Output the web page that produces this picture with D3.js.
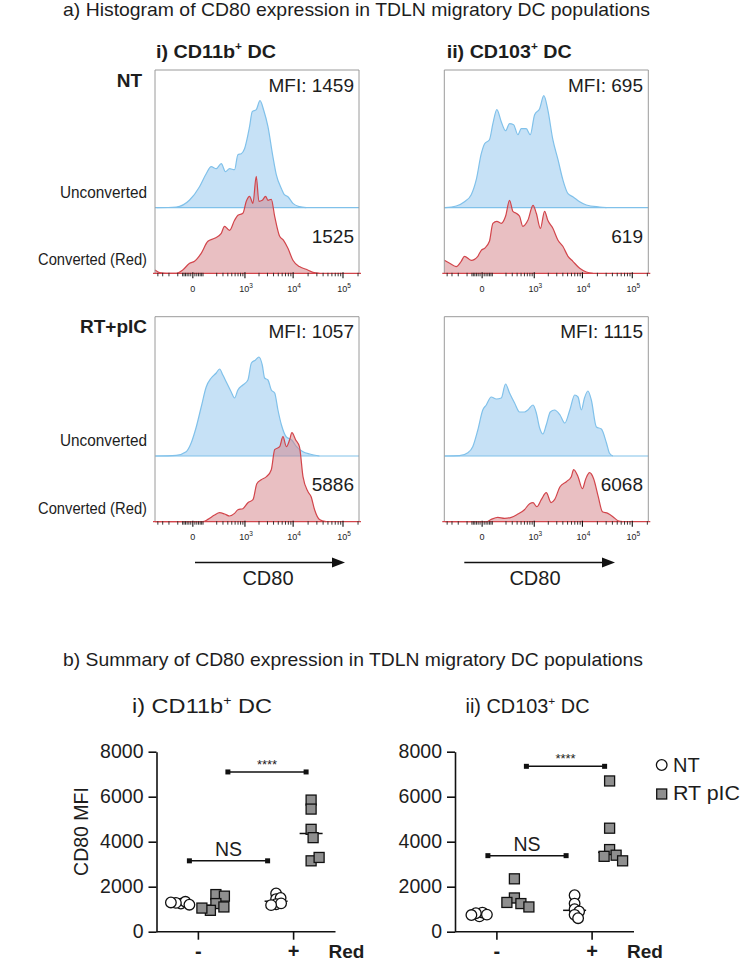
<!DOCTYPE html>
<html><head><meta charset="utf-8">
<script src="https://cdn.jsdelivr.net/npm/d3@7/dist/d3.min.js"></script>
<style>
html,body{margin:0;padding:0;background:#fff}
svg{display:block}
text{font-family:"Liberation Sans",Arial,Helvetica,sans-serif;fill:#1d1d1d}
</style></head><body>
<svg id="fig" width="743" height="961" viewBox="0 0 743 961"></svg>
<script>
// ================= DATA =================
const titleA = "a) Histogram of CD80 expression in TDLN migratory DC populations";
const titleB = "b) Summary of CD80 expression in TDLN migratory DC populations";
const histColumns = ["i) CD11b⁺ DC", "ii) CD103⁺ DC"];
const histRowLabels = ["NT", "RT+pIC"];
const histSeries = ["Unconverted", "Converted (Red)"];
const mfiUnconverted = [[1459, 695], [1057, 1115]];   // [row][column]
const mfiConverted   = [[1525, 619], [5886, 6068]];
const histTickValues = [0, 1000, 10000, 100000];
const histTickBase   = ["0", "10", "10", "10"];
const histTickExp    = ["", "3", "4", "5"];
const histAxisLabel  = "CD80";

// histogram outlines: [CD80 intensity, normalised count]
const histNT_CD11b_unconv = [[-430,0],[-115,0.7],[-16,7.7],[36,21],[85,34],[133,41],[194,39],[270,44],[350,36],[442,39],[582,38],[695,53],[826,54],[980,59],[1260,81],[1440,96],[1750,98],[2100,107],[2490,98],[3070,81],[3880,51],[4550,33],[5800,19],[6650,13],[7850,11],[9900,4.3],[13400,1],[18300,0]];
const histNT_CD11b_conv = [[-470,3.3],[-362,0.7],[-240,0],[-115,0],[-59,3.3],[-16,10],[8,12],[47,20],[100,32],[172,35],[270,40],[330,47],[380,45],[442,43],[582,53],[695,58],[900,60],[1070,72],[1260,77],[1490,70],[1750,97],[1990,72],[2340,73],[2740,77],[3070,73],[3600,74],[4220,57],[5330,37],[6400,33],[7850,25],[9900,13],[13400,6.7],[18300,4],[25000,1],[33800,0]];
const histNT_CD103_unconv = [[-455,0],[-230,1.7],[-125,6],[-65,13],[-31,28],[-4,54],[12,64],[40,68],[64,84],[97,98],[141,86],[194,77],[253,84],[325,83],[418,73],[505,79],[660,79],[815,73],[1020,93],[1310,99],[1610,112],[1950,98],[2490,68],[3180,48],[4000,28],[5100,14],[6400,11],[8800,6],[12000,2.7],[22200,0.7],[30400,0]];
const histNT_CD103_conv = [[-470,13],[-345,10],[-230,6.7],[-162,12],[-125,17],[-65,13],[-22,17],[-4,23],[12,25],[40,32],[64,50],[97,52],[141,50],[194,57],[253,73],[312,62],[380,60],[460,57],[550,47],[720,53],[940,68],[1110,60],[1360,45],[1670,62],[1950,53],[2490,45],[3180,33],[4000,27],[5100,17],[6400,12],[8800,5],[12000,1.3],[16200,0]];
const histRT_CD11b_unconv = [[-455,0],[-115,0.7],[-36,4.3],[-8,13],[17,29],[47,49],[85,69],[133,78],[194,83],[242,87],[298,81],[366,74],[485,64],[582,58],[695,66],[900,71],[1160,76],[1380,93],[1690,96],[1990,99],[2340,91],[2620,78],[3070,76],[3600,66],[4220,63],[4920,46],[5800,31],[7300,19],[9350,16],[11700,9.3],[15800,4.3],[21500,2],[33800,0]];
const histRT_CD11b_conv = [[-470,0],[59,0],[100,2.3],[172,6.7],[242,9],[330,7.7],[442,5.7],[582,8.3],[695,12],[900,13],[1160,19],[1490,22],[1800,38],[2230,42],[2860,45],[3600,52],[4220,72],[5330,75],[6220,85],[7300,75],[8500,82],[9450,89],[11200,82],[13400,75],[15800,45],[19900,30],[23000,25],[27000,12],[33800,2.3],[46000,0]];
const histRT_CD103_unconv = [[-455,0],[-183,0.3],[-93,3.3],[-54,9.3],[-22,26],[3,46],[21,51],[52,59],[92,57],[141,58],[194,72],[253,63],[345,53],[460,44],[600,44],[720,46],[940,51],[1110,43],[1310,28],[1540,22],[1810,31],[2200,44],[2700,46],[3500,41],[4400,33],[5550,46],[6980,61],[8150,59],[9500,46],[11000,58],[12900,65],[15100,56],[19100,29],[24000,27],[30400,13],[35000,2.7],[41000,0]];
const histRT_CD103_conv = [[-455,0],[21,0],[52,2.3],[106,4.3],[180,3.3],[282,4.3],[418,7.7],[600,12],[790,18],[940,19],[1140,15],[1420,22],[1810,29],[2300,19],[2700,22],[3500,35],[4720,40],[5950,45],[6640,52],[8150,45],[9970,33],[11700,43],[13900,49],[16800,43],[20800,25],[25200,10],[32400,8.3],[41000,5],[51800,1],[65000,0]];

const histData = [
  [[histNT_CD11b_unconv, histNT_CD11b_conv], [histNT_CD103_unconv, histNT_CD103_conv]],
  [[histRT_CD11b_unconv, histRT_CD11b_conv], [histRT_CD103_unconv, histRT_CD103_conv]]
];

// summary scatter
const summaryTitles = ["i) CD11b⁺ DC", "ii) CD103⁺ DC"];
const summaryGroups = ["-", "+"];
const summarySeries = ["NT", "RT pIC"];
const summaryTicks  = [0, 2000, 4000, 6000, 8000];
const summaryYLabel = "CD80 MFI";
const summaryXLabel = "Red";

const cd11b_NT_neg = [1250, 1330, 1280, 1200, 1300];
const cd11b_RT_neg = [1650, 1580, 1250, 1100, 950, 1050];
const cd11b_NT_pos = [1700, 1450, 1500, 1220, 1260, 1180];
const cd11b_RT_pos = [5850, 5450, 4550, 4180, 3150, 3300];
const cd103_NT_neg = [680, 850, 820, 760, 740];
const cd103_RT_neg = [2350, 1500, 1250, 1300, 1100];
const cd103_NT_pos = [1620, 1250, 1000, 900, 750, 600];
const cd103_RT_pos = [6700, 4600, 3650, 3400, 3350, 3150];

const sigCD11b = [{series: "NT", y: 3150, label: "NS"}, {series: "RT pIC", y: 7100, label: "****"}];
const sigCD103 = [{series: "NT", y: 3380, label: "NS"}, {series: "RT pIC", y: 7350, label: "****"}];

// ================= DRAW =================
const svg = d3.select("#fig");

function label(parent, x, y, str, o = {}) {
  const size = o.size || 19;
  const t = parent.append("text")
    .attr("x", x).attr("y", y)
    .attr("font-size", size)
    .attr("font-weight", o.weight || "normal")
    .attr("text-anchor", o.anchor || "start");
  const segs = str.split("⁺");
  segs.forEach((seg, i) => {
    if (i > 0) {
      t.append("tspan").attr("font-size", size * 0.6).attr("dy", -size * 0.4).text("+");
      t.append("tspan").attr("dy", size * 0.4).text(seg);
    } else {
      t.append("tspan").text(seg);
    }
  });
  if (o.width) t.attr("textLength", o.width).attr("lengthAdjust", "spacingAndGlyphs");
  return t;
}

// ---- titles ----
label(svg, 63, 15.5, titleA, {size: 19, width: 587});
label(svg, 63, 666, titleB, {size: 19, width: 580});

// ---- histograms ----
const panelW = 204;
const colLefts = [155, 444.3];
const rowGeom = [{top: 70, mid: 207.7, bot: 273.3}, {top: 316.7, mid: 456, bot: 521.7}];
const headerX = [156, 446.7], headerW = [120, 125];
const rowLabelX = [142, 147], rowLabelY = [87.3, 333];
const mfiRight = [354, 643];

const hy = d3.scaleLinear().domain([0, 100]).range([0, 100]);
const blue = {fill: "#c6e1f6", stroke: "#80c1ea"};
const red  = {fill: "rgba(212,128,133,0.5)", stroke: "#d2454b"};

histColumns.forEach((h, c) => label(svg, headerX[c], 58, h, {size: 19, weight: "bold", width: headerW[c]}));

histRowLabels.forEach((rl, r) => {
  const g = rowGeom[r];
  label(svg, rowLabelX[r], rowLabelY[r], rl, {size: 19, weight: "bold", anchor: "end"});
  label(svg, 147, g.mid - 10, histSeries[0], {size: 16.5, anchor: "end", width: 87});
  label(svg, 147, g.bot - 8, histSeries[1], {size: 16.5, anchor: "end", width: 109});

  histColumns.forEach((_, c) => {
    const L = colLefts[c];
    const hx = d3.scaleSymlog().constant(100).domain([-470, 209000]).range([L, L + panelW]);
    const pg = svg.append("g");
    const [unconv, conv] = histData[r][c];
    const areaAt = base => d3.area().curve(d3.curveMonotoneX)
        .x(d => hx(d[0])).y0(base).y1(d => base - hy(d[1]));
    const lineAt = base => d3.line().curve(d3.curveMonotoneX)
        .x(d => hx(d[0])).y(d => base - hy(d[1]));

    // unconverted (top, blue)
    pg.append("path").attr("d", areaAt(g.mid)(unconv)).attr("fill", blue.fill);
    pg.append("line").attr("x1", L).attr("x2", L + panelW).attr("y1", g.mid).attr("y2", g.mid)
      .attr("stroke", blue.stroke).attr("stroke-width", 1.2);
    pg.append("path").attr("d", lineAt(g.mid)(unconv)).attr("fill", "none")
      .attr("stroke", blue.stroke).attr("stroke-width", 1.2);

    // converted (bottom, red)
    pg.append("path").attr("d", areaAt(g.bot)(conv)).attr("fill", red.fill);
    pg.append("path").attr("d", lineAt(g.bot)(conv)).attr("fill", "none")
      .attr("stroke", red.stroke).attr("stroke-width", 1.2);

    // frame
    pg.append("path")
      .attr("d", `M${L},${g.bot}V${g.top}H${L + panelW}V${g.bot}`)
      .attr("fill", "none").attr("stroke", "#9a9a9a").attr("stroke-width", 1);
    pg.append("line").attr("x1", L - 2).attr("x2", L + panelW + 2).attr("y1", g.bot).attr("y2", g.bot)
      .attr("stroke", red.stroke).attr("stroke-width", 1.3);

    // axis ticks
    const minor = [].concat(
      d3.range(-400, -99, 100),
      d3.range(-60, 61, 10).filter(v => v !== 0),
      d3.range(200, 901, 100),
      d3.range(2000, 9001, 1000),
      d3.range(20000, 90001, 10000),
      [200000]);
    pg.selectAll(null).data(minor).join("line")
      .attr("x1", d => hx(d)).attr("x2", d => hx(d))
      .attr("y1", g.bot - 0.5).attr("y2", g.bot + 3)
      .attr("stroke", "#222").attr("stroke-width", 0.9);
    pg.selectAll(null).data(histTickValues).join("line")
      .attr("x1", d => hx(d)).attr("x2", d => hx(d))
      .attr("y1", g.bot - 1).attr("y2", g.bot + 5)
      .attr("stroke", "#111").attr("stroke-width", 1.1);
    histTickValues.forEach((v, i) => {
      const t = pg.append("text").attr("x", hx(v) + (i ? 1 : 0)).attr("y", g.bot + 18.5)
        .attr("font-size", 9).attr("text-anchor", "middle").attr("fill", "#333");
      t.append("tspan").text(histTickBase[i]);
      if (histTickExp[i]) t.append("tspan").attr("font-size", 6.5).attr("dy", -4).text(histTickExp[i]);
    });

    // MFI texts
    label(pg, mfiRight[c], g.top + 21.5, "MFI: " + mfiUnconverted[r][c], {size: 19, anchor: "end"});
    label(pg, mfiRight[c], g.mid + 35, String(mfiConverted[r][c]), {size: 19, anchor: "end"});
  });
});

// arrows + CD80 label (under bottom row)
const arrowX = [[195, 345], [464.3, 615]];
const cd80X = [268, 535];
arrowX.forEach((a, c) => {
  const y = 562.5;
  svg.append("line").attr("x1", a[0]).attr("x2", a[1] - 10).attr("y1", y).attr("y2", y)
    .attr("stroke", "#111").attr("stroke-width", 1.6);
  svg.append("path").attr("d", `M${a[1]},${y}L${a[1] - 13},${y - 5}L${a[1] - 13},${y + 5}Z`).attr("fill", "#111");
  label(svg, cd80X[c], 584.5, histAxisLabel, {size: 20, anchor: "middle"});
});

// ---- summary scatter plots ----
const sy = d3.scaleLinear().domain([0, 8000]).range([931.7, 751.7]);
const axisLen = 179;
const plots = [
  {axisX: 156.5, title: summaryTitles[0], titleX: 202, titleSize: 21, titleW: 140,
   data: {"NT": {"-": cd11b_NT_neg, "+": cd11b_NT_pos}, "RT pIC": {"-": cd11b_RT_neg, "+": cd11b_RT_pos}},
   sig: sigCD11b, yLabel: true},
  {axisX: 455, title: summaryTitles[1], titleX: 527.5, titleSize: 19.5, titleW: 124,
   data: {"NT": {"-": cd103_NT_neg, "+": cd103_NT_pos}, "RT pIC": {"-": cd103_RT_neg, "+": cd103_RT_pos}},
   sig: sigCD103, yLabel: false}
];

function swarm(vals, cx, minD) {
  const placed = [];
  return vals.map(v => {
    const py = sy(v);
    let off = 0;
    for (let k = 0; k < 200; k++) {
      const cand = (k % 2 ? 1 : -1) * Math.ceil(k / 2) * 0.5;
      const ok = placed.every(p => Math.hypot(p[0] - (cx + cand), p[1] - py) >= minD);
      if (ok) { off = cand; break; }
    }
    const pt = [cx + off, py, v];
    placed.push(pt);
    return pt;
  });
}

plots.forEach(p => {
  const g = svg.append("g");
  const gx = d3.scalePoint().domain(summaryGroups).range([p.axisX, p.axisX + axisLen]).padding(0.44);
  const sx = d3.scalePoint().domain(summarySeries).range([-17.5, 17.5]);
  const X = (grp, ser) => gx(grp) + sx(ser);

  label(g, p.titleX, 713, p.title, {size: p.titleSize, anchor: "middle", width: p.titleW});

  // y axis
  const ya = g.append("g").attr("transform", `translate(${p.axisX},0)`)
    .call(d3.axisLeft(sy).tickValues(summaryTicks).tickFormat(d3.format("d")).tickSize(8).tickSizeOuter(0).tickPadding(5));
  ya.select(".domain").attr("stroke", "#111").attr("stroke-width", 1.6);
  ya.selectAll(".tick line").attr("stroke", "#111").attr("stroke-width", 1.6);
  ya.selectAll(".tick text").attr("font-size", 19.5).attr("font-family", "Liberation Sans, Arial, sans-serif").attr("fill", "#1d1d1d");

  // x axis
  g.append("line").attr("x1", p.axisX).attr("x2", p.axisX + axisLen).attr("y1", sy(0)).attr("y2", sy(0))
    .attr("stroke", "#111").attr("stroke-width", 1.6);
  summaryGroups.forEach(grp => {
    g.append("line").attr("x1", gx(grp)).attr("x2", gx(grp)).attr("y1", sy(0)).attr("y2", sy(0) + 8)
      .attr("stroke", "#111").attr("stroke-width", 1.6);
    label(g, gx(grp), 958, grp, {size: 20, weight: "bold", anchor: "middle"});
  });
  label(g, p.axisX + 190, 958, summaryXLabel, {size: 19, weight: "bold", anchor: "middle"});

  if (p.yLabel) {
    g.append("text").attr("transform", `translate(88,831.5) rotate(-90)`)
      .attr("text-anchor", "middle").attr("font-size", 19.5).text(summaryYLabel);
  }

  // significance bars
  p.sig.forEach(s => {
    const inset = s.series === "NT" ? [8.5, 8.5] : [12, 5];
    const x1 = X("-", s.series) + inset[0], x2 = X("+", s.series) - inset[1];
    const y = sy(s.y);
    g.append("line").attr("x1", x1).attr("x2", x2).attr("y1", y).attr("y2", y)
      .attr("stroke", "#111").attr("stroke-width", 1.5);
    [x1, x2].forEach(xx => g.append("rect").attr("x", xx - 2.5).attr("y", y - 2.5).attr("width", 5).attr("height", 5).attr("fill", "#111"));
    if (s.label === "NS") {
      label(g, (x1 + x2) / 2, y - 4.5, s.label, {size: 19.5, anchor: "middle"});
    } else {
      label(g, (x1 + x2) / 2, y - 3, s.label, {size: 13, anchor: "middle"});
    }
  });

  // medians then points
  summarySeries.forEach(ser => {
    summaryGroups.forEach(grp => {
      const vals = p.data[ser][grp];
      const cx = X(grp, ser);
      const med = d3.median(vals);
      g.append("line").attr("x1", cx - 11.5).attr("x2", cx + 11.5).attr("y1", sy(med)).attr("y2", sy(med))
        .attr("stroke", "#111").attr("stroke-width", 1.5);
      const pts = swarm(vals, cx, ser === "NT" ? 4.6 : 8.5);
      if (ser === "NT") {
        g.selectAll(null).data(pts).join("circle")
          .attr("cx", d => d[0]).attr("cy", d => d[1]).attr("r", 5.3)
          .attr("fill", "#fff").attr("stroke", "#111").attr("stroke-width", 1.3);
      } else {
        g.selectAll(null).data(pts).join("rect")
          .attr("x", d => d[0] - 5).attr("y", d => d[1] - 5).attr("width", 10).attr("height", 10)
          .attr("fill", "#8f8f8f").attr("stroke", "#111").attr("stroke-width", 1.3);
      }
    });
  });
});

// legend
const lg = svg.append("g");
lg.append("circle").attr("cx", 661.7).attr("cy", 765).attr("r", 5.3).attr("fill", "#fff").attr("stroke", "#111").attr("stroke-width", 1.3);
lg.append("rect").attr("x", 656.7).attr("y", 789).attr("width", 10).attr("height", 10).attr("fill", "#8f8f8f").attr("stroke", "#111").attr("stroke-width", 1.3);
label(lg, 673, 771.5, summarySeries[0], {size: 20});
label(lg, 673, 800, summarySeries[1], {size: 20, width: 67});
</script>
</body></html>
